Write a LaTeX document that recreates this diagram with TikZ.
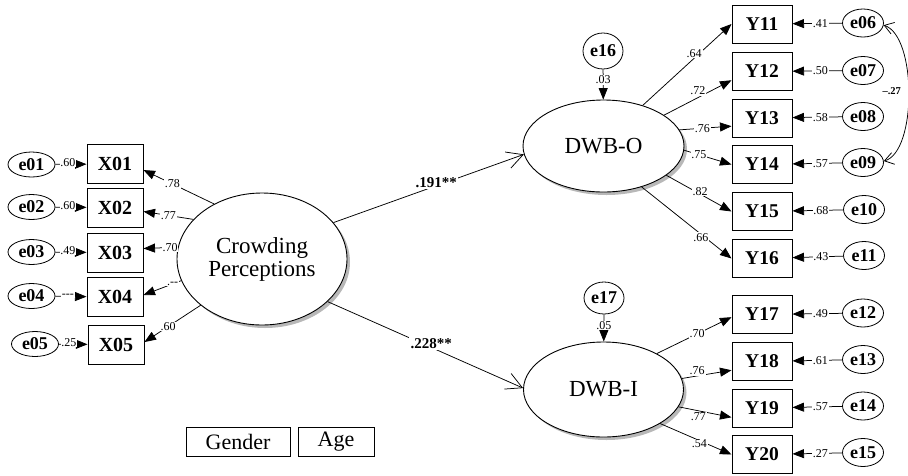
\documentclass[tikz,border=0pt]{standalone}
\usepackage{fontspec}
\setmainfont{Liberation Serif}
\usetikzlibrary{shapes.geometric,arrows.meta,shadows}

\begin{document}
\begin{tikzpicture}[x=1pt,y=-1pt,
  every node/.style={inner sep=0pt},
  xbox/.style={draw,rectangle,line width=1pt,minimum width=56pt,minimum height=39pt,
    font=\fontsize{20}{20}\selectfont\bfseries},
  ybox/.style={draw,rectangle,line width=1pt,minimum width=60pt,minimum height=38pt,
    font=\fontsize{19.5}{19.5}\selectfont\bfseries},
  cbox/.style={draw,rectangle,line width=1pt,minimum height=29pt,
    font=\fontsize{22}{22}\selectfont},
  latent/.style={draw,ellipse,line width=0.9pt,fill=white,align=center,
    drop shadow={shadow xshift=3pt,shadow yshift=-3pt,fill=black!28,opacity=1},
    font=\fontsize{23}{23}\selectfont},
  errl/.style={draw,ellipse,line width=0.8pt,minimum width=47pt,minimum height=25pt,
    font=\fontsize{18}{18}\selectfont\bfseries},
  errr/.style={draw,ellipse,line width=0.8pt,minimum width=41pt,minimum height=28pt,
    font=\fontsize{18}{18}\selectfont\bfseries},
  coef/.style={fill=white,inner sep=0.8pt,font=\fontsize{12}{12}\selectfont},
  bcoef/.style={fill=white,inner sep=1.5pt,font=\fontsize{15}{15}\selectfont\bfseries},
  load/.style={line width=0.75pt,-{Triangle[length=11.5pt,width=9pt]}},
  struct/.style={line width=0.75pt,-{Straight Barb[length=16pt,width=17pt]}},
  cov/.style={line width=0.75pt,
    {Straight Barb[length=9pt,width=12pt]}-{Straight Barb[length=9pt,width=12pt]}}
]
\useasboundingbox (0,0) rectangle (908,475);

% latent variables
\node[latent,minimum width=170pt,minimum height=132pt] (cp) at (262,259) {Crowding\\Perceptions};
\node[latent,minimum width=161pt,minimum height=92pt] (dwbo) at (603.5,146) {DWB-O};
\node[latent,minimum width=160pt,minimum height=95pt] (dwbi) at (603.5,389.5) {DWB-I};

% indicators of crowding perceptions
\node[xbox] (x1) at (115,164) {X01};
\node[xbox] (x2) at (115,207.5) {X02};
\node[xbox] (x3) at (115,252.5) {X03};
\node[xbox] (x4) at (115,297) {X04};
\node[xbox] (x5) at (116,344.5) {X05};

\node[errl] (e01) at (31.5,164.5) {e01};
\node[errl] (e02) at (31.5,207) {e02};
\node[errl] (e03) at (31.5,252) {e03};
\node[errl] (e04) at (31.5,296) {e04};
\node[errl] (e05) at (35,344) {e05};

% indicators of the outcome factors
\node[ybox] (y11) at (762,24) {Y11};
\node[ybox] (y12) at (762,71.5) {Y12};
\node[ybox] (y13) at (762,118) {Y13};
\node[ybox] (y14) at (762,164.5) {Y14};
\node[ybox] (y15) at (762,211.5) {Y15};
\node[ybox] (y16) at (762,258.5) {Y16};
\node[ybox] (y17) at (762,314.5) {Y17};
\node[ybox] (y18) at (762,361.5) {Y18};
\node[ybox] (y19) at (762,408) {Y19};
\node[ybox] (y20) at (762,454.5) {Y20};

\node[errr] (e06) at (863,23) {e06};
\node[errr] (e07) at (863,70.5) {e07};
\node[errr] (e08) at (863,116.5) {e08};
\node[errr] (e09) at (863,162.5) {e09};
\node[errr] (e10) at (864,209.5) {e10};
\node[errr] (e11) at (864,255.5) {e11};
\node[errr] (e12) at (863,313) {e12};
\node[errr] (e13) at (863,359.5) {e13};
\node[errr] (e14) at (863,406) {e14};
\node[errr] (e15) at (863,452.5) {e15};

% disturbances
\node[errr,minimum width=40pt,minimum height=36pt] (e16) at (603,51) {e16};
\node[errr,minimum width=40pt,minimum height=32pt] (e17) at (604,298) {e17};

% control variables
\node[cbox,minimum width=104pt] (gender) at (238,441.5) {Gender};
\node[cbox,minimum width=76pt] (age) at (336,441.5) {Age};

% measurement errors, left block
\draw[load] (e01) -- node[coef,pos=0.4,yshift=2pt]{.60} (x1);
\draw[load] (e02) -- node[coef,pos=0.4,yshift=2pt]{.60} (x2);
\draw[load] (e03) -- node[coef,pos=0.4,yshift=2pt]{.49} (x3);
\draw[load] (e04) -- node[coef,pos=0.4,yshift=1pt]{-{}-{}-} (x4);
\draw[load] (e05) -- node[coef,pos=0.35,yshift=2pt]{.25} (x5);

% loadings of crowding perceptions
\draw[load] (cp.131) -- node[coef,pos=0.59]{.78} (x1.-12);
\draw[load] (cp.150) -- node[coef,pos=0.5]{.77} (x2.-8);
\draw[load] (cp.172) -- node[coef,pos=0.23]{.70} (x3.8);
\draw[load] (cp.195) -- node[coef,pos=0.23]{.-{}-} (x4.4);
\draw[load] (cp.217) -- node[coef,pos=0.58]{.60} (x5.5);

% structural paths
\draw[struct] (cp.27) -- node[bcoef,pos=0.54,yshift=3pt]{.191**} (dwbo.186);
\draw[struct] (cp.-33) -- node[bcoef,pos=0.53,yshift=4pt]{.228**} (dwbi.179);

% disturbance paths
\draw[load] (e16) -- node[coef,pos=0.35]{.03} (dwbo);
\draw[load] (e17) -- node[coef,pos=0.41]{.05} (dwbi);

% loadings of DWB-O
\draw[load] (dwbo.46) -- node[coef,pos=0.58,yshift=5pt]{.64} (y11.west);
\draw[load] (dwbo.27) -- node[coef,pos=0.5,yshift=7pt]{.72} (y12.196);
\draw[load] (dwbo.12) -- node[coef,pos=0.44]{.76} (y13.195);
\draw[load] (dwbo.-3) -- node[coef,pos=0.31]{.75} (y14.west);
\draw[load] (dwbo.-25) -- node[coef,pos=0.52,yshift=3pt]{.82} (y15.west);
\draw[load] (dwbo.-47) -- node[coef,pos=0.66,yshift=-3pt]{.66} (y16.west);

% loadings of DWB-I
\draw[load] (dwbi.34) -- node[coef,pos=0.54]{.70} (y17.185);
\draw[load] (dwbi.8) -- node[coef,pos=0.31,yshift=5pt]{.76} (y18.196);
\draw[load] (dwbi.-13) -- node[coef,pos=0.375,yshift=-6pt]{.77} (y19.197);
\draw[load] (dwbi.-31) -- node[coef,pos=0.55,yshift=-3pt]{.54} (y20.west);

% measurement errors, right block
\draw[load] (e06) -- node[coef,pos=0.44]{.41} (y11);
\draw[load] (e07) -- node[coef,pos=0.44]{.50} (y12);
\draw[load] (e08) -- node[coef,pos=0.44]{.58} (y13);
\draw[load] (e09) -- node[coef,pos=0.44]{.57} (y14);
\draw[load] (e10) -- node[coef,pos=0.44]{.68} (y15);
\draw[load] (e11) -- node[coef,pos=0.44]{.43} (y16);
\draw[load] (e12) -- node[coef,pos=0.44]{.49} (y17);
\draw[load] (e13) -- node[coef,pos=0.44]{.61} (y18);
\draw[load] (e14) -- node[coef,pos=0.44]{.57} (y19);
\draw[load] (e15) -- node[coef,pos=0.44]{.27} (y20);

% error covariance
\draw[cov] (e06.-6) .. controls (917,36) and (917,152) .. node[pos=0.5,xshift=-17pt,yshift=3pt,font=\fontsize{10.5}{10.5}\selectfont\bfseries]{--.27} (e09.4);
\end{tikzpicture}
\end{document}
